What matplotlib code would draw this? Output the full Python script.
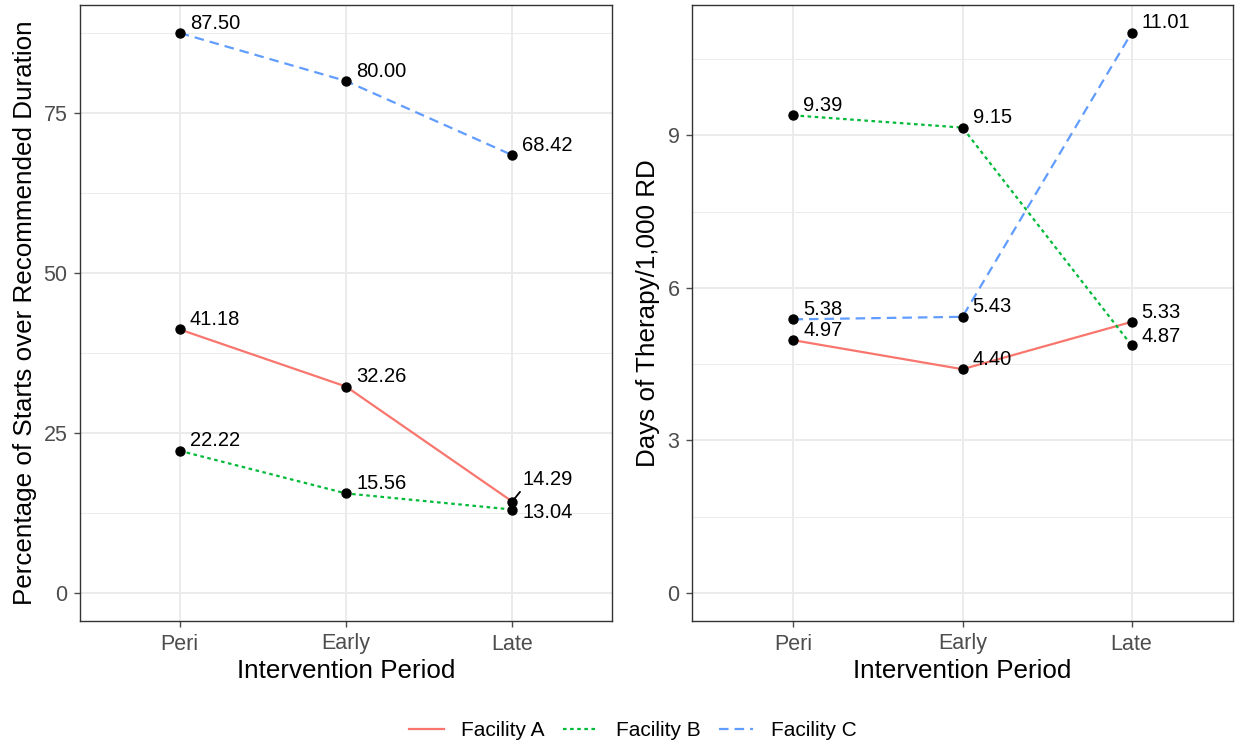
import matplotlib.pyplot as plt
from matplotlib.lines import Line2D

plt.rcParams['font.family'] = ['Liberation Sans', 'DejaVu Sans']

periods = ['Peri', 'Early', 'Late']
facilities = ['Facility A', 'Facility B', 'Facility C']

pct_over = {
    'Facility A': [41.18, 32.26, 14.29],
    'Facility B': [22.22, 15.56, 13.04],
    'Facility C': [87.50, 80.00, 68.42],
}
dot = {
    'Facility A': [4.97, 4.40, 5.33],
    'Facility B': [9.39, 9.15, 4.87],
    'Facility C': [5.38, 5.43, 11.01],
}

colors = {'Facility A': '#F8766D', 'Facility B': '#00BA38', 'Facility C': '#619CFF'}
dashes = {'Facility A': None, 'Facility B': (1.6, 1.6), 'Facility C': (4.3, 2.7)}

# label offsets in pixels (dx, dy), some labels got nudged by repel
off_left = {('Facility A', 2): (10, 22), ('Facility B', 2): (10, -3)}
off_right = {('Facility A', 2): (10, 9), ('Facility B', 2): (10, 9)}

fig = plt.figure(figsize=(12.38, 7.49), dpi=100)
ax1 = fig.add_axes([80 / 1238, 128 / 749, 532 / 1238, 616 / 749])
ax2 = fig.add_axes([692 / 1238, 128 / 749, 541 / 1238, 616 / 749])


def panel(ax, data, offsets, ylim, yticks, yminor, ylabel):
    x = list(range(len(periods)))
    for f in facilities:
        ln, = ax.plot(x, data[f], color=colors[f], lw=1.6, zorder=3)
        if dashes[f]:
            ln.set_dashes(dashes[f])
        ax.scatter(x, data[f], color='black', s=42, zorder=4)
        for i, v in enumerate(data[f]):
            dx, dy = offsets.get((f, i), (10, 10))
            arrow = None
            if dy > 15:
                arrow = dict(arrowstyle='-', color='black', lw=1.3, shrinkA=0, shrinkB=3,
                             relpos=(0.0, 0.0))
            ax.annotate(f'{v:.2f}', (i, v), xytext=(dx, dy), textcoords='offset pixels',
                        ha='left', va='center', fontsize=14.5, arrowprops=arrow, zorder=5)
    ax.set_xlim(-0.6, 2.6)
    ax.set_ylim(*ylim)
    ax.set_xticks(x)
    ax.set_xticklabels(periods)
    ax.set_yticks(yticks)
    ax.set_yticks(yminor, minor=True)
    ax.grid(True, which='major', color='#EBEBEB', lw=1.4, zorder=0)
    ax.grid(True, which='minor', axis='y', color='#EBEBEB', lw=0.7, zorder=0)
    ax.set_axisbelow(True)
    ax.tick_params(which='major', colors='#4D4D4D', labelsize=15.5, length=4, width=1, pad=5)
    ax.tick_params(which='minor', length=0)
    for s in ax.spines.values():
        s.set_color('#333333')
        s.set_linewidth(1)
    ax.set_xlabel('Intervention Period', fontsize=18.7, labelpad=3)
    ax.set_ylabel(ylabel, fontsize=18.7, labelpad=5)


panel(ax1, pct_over, off_left, (-4.375, 91.875), [0, 25, 50, 75], [12.5, 37.5, 62.5, 87.5],
      'Percentage of Starts over Recommended Duration')
panel(ax2, dot, off_right, (-0.55, 11.56), [0, 3, 6, 9], [1.5, 4.5, 7.5, 10.5],
      'Days of Therapy/1,000 RD')

handles = []
for f in facilities:
    h = Line2D([], [], color=colors[f], lw=1.6)
    if dashes[f]:
        h.set_dashes(dashes[f])
    handles.append(h)
fig.legend(handles, facilities, loc='center', bbox_to_anchor=(633 / 1238, 18 / 749), ncol=3,
           frameon=False, fontsize=15, handlelength=1.65, handletextpad=0.85,
           columnspacing=0.9)

fig.savefig('out.png', dpi=100)
